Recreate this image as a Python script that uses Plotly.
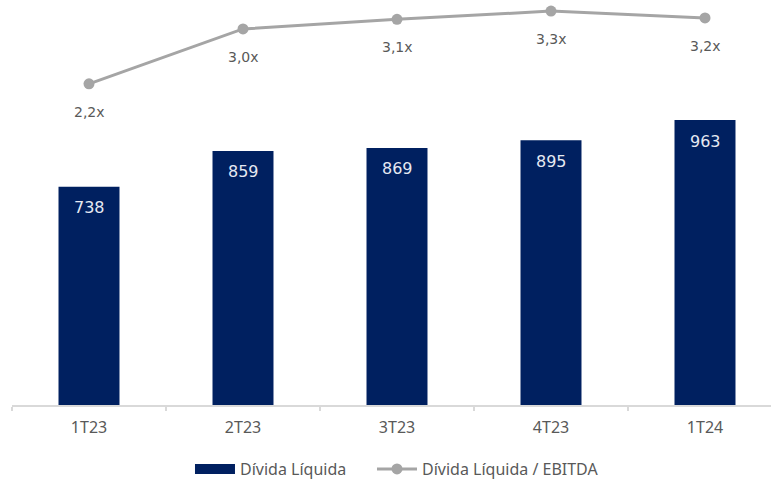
import plotly.graph_objects as go

categories = ["1T23", "2T23", "3T23", "4T23", "1T24"]
divida_liquida = [738, 859, 869, 895, 963]
divida_ebitda = [2.2, 3.0, 3.14, 3.26, 3.16]

bar_name = "Dívida Líquida"
line_name = "Dívida Líquida / EBITDA"

NAVY = "#002060"
GRAY = "#A5A5A5"
TEXT = "#595959"
FONT = "Noto Sans"

fig = go.Figure()

fig.add_trace(go.Bar(
    x=categories, y=divida_liquida, name=bar_name,
    marker=dict(color=NAVY, line=dict(width=0)),
    width=0.396, showlegend=False, hoverinfo="skip",
))

# legend proxy for the bar series (wide rectangular swatch)
fig.add_trace(go.Scatter(
    x=[None], y=[None], mode="lines", name=bar_name,
    line=dict(color=NAVY, width=12), showlegend=True, legend="legend",
))

fig.add_trace(go.Scatter(
    x=categories, y=divida_ebitda, name=line_name, yaxis="y2",
    mode="lines+markers",
    line=dict(color=GRAY, width=3),
    marker=dict(color=GRAY, size=11),
    cliponaxis=False,
    hoverinfo="skip", legend="legend2",
))

annotations = []
for c, v in zip(categories, divida_liquida):
    annotations.append(dict(
        x=c, y=v, xref="x", yref="y", text=f"{v}", showarrow=False,
        yshift=-21, font=dict(family="DejaVu Sans", size=16, color="#E6E9F2"),
    ))
for c, v in zip(categories, divida_ebitda):
    annotations.append(dict(
        x=c, y=v, xref="x", yref="y2",
        text=f"{v:.1f}".replace(".", ",") + "x", showarrow=False,
        yshift=-28, font=dict(family="DejaVu Sans", size=14, color=TEXT),
    ))

legend_common = dict(
    orientation="h", y=-0.1585, yanchor="middle", xanchor="left",
    font=dict(family=FONT, size=16, color=TEXT),
    itemwidth=40, bgcolor="rgba(0,0,0,0)",
)

fig.update_layout(
    width=771, height=486,
    margin=dict(l=12, r=0, t=0, b=80.3),
    paper_bgcolor="white", plot_bgcolor="white",
    font=dict(family=FONT, color=TEXT, size=16),
    annotations=annotations,
    xaxis=dict(
        range=[-0.5, 4.4286], showgrid=False, zeroline=False,
        showline=True, linecolor="#D9D9D9", linewidth=1.5,
        ticks="outside", tickson="boundaries", ticklen=4, tickcolor="#D9D9D9",
        tickwidth=1.5, tickfont=dict(family=FONT, size=16, color=TEXT),
        ticklabelstandoff=7,
        fixedrange=True,
    ),
    yaxis=dict(range=[0, 1369], visible=False, showgrid=False, zeroline=False,
               fixedrange=True),
    yaxis2=dict(range=[-2.479, 3.422], overlaying="y", visible=False,
                showgrid=False, zeroline=False, fixedrange=True),
    legend=dict(x=0.2345, **legend_common),
    legend2=dict(x=0.4743, **legend_common),
    showlegend=True,
)

fig.write_html("out.html", config={"displayModeBar": False},
               post_script="document.body.style.margin='0';")
